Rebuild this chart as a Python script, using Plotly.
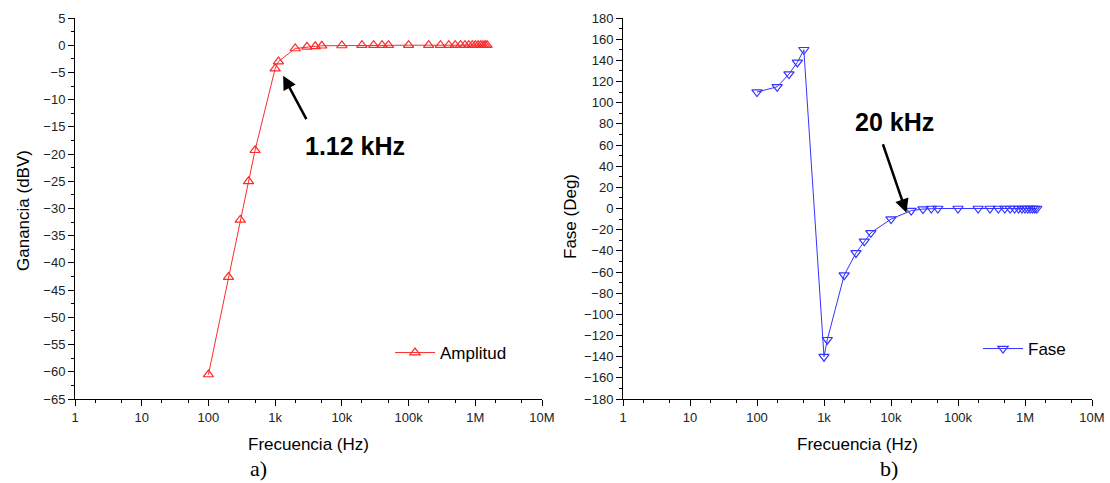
import plotly.graph_objects as go

# Measured frequency response of the filter
freq_hz = [100, 200, 300, 400, 500, 1000, 1120, 2000, 3000, 4000, 5000,
           10000, 20000, 30000, 40000, 50000, 100000, 200000, 300000,
           400000, 500000, 600000, 700000, 800000, 900000, 1000000,
           1100000, 1200000, 1300000, 1400000, 1500000]
amplitud_dbv = [-60.5, -42.6, -32.1, -25.0, -19.3, -4.3, -3.0, -0.6, -0.3,
                -0.2, -0.1, -0.05, 0, 0, 0, 0, 0, 0, 0, 0, 0, 0, 0, 0, 0, 0,
                0, 0, 0, 0, 0]
fase_deg = [110, 115, 127, 138, 150, -140, -124, -63, -42, -31, -23, -10,
            -2, -0.5, 0, 0, 0, 0, 0, 0, 0, 0, 0, 0, 0, 0, 0, 0, 0, 0, 0]

x_tickvals = [1, 10, 100, 1e3, 1e4, 1e5, 1e6, 1e7]
x_ticktext = ["1", "10", "100", "1k", "10k", "100k", "1M", "10M"]

FONT = "Liberation Sans, Arial, sans-serif"
W, H = 1110, 483

def px_x(p):
    return p / W

def px_y(p):
    return 1 - p / H

fig = go.Figure()
fig.add_trace(go.Scatter(
    x=freq_hz, y=amplitud_dbv, name="Amplitud", mode="lines+markers",
    line=dict(color="#ff2a2a", width=1),
    marker=dict(symbol="triangle-up-open", size=9, color="#ff2a2a",
                line=dict(width=1.2)),
    xaxis="x", yaxis="y", legend="legend", showlegend=True))
fig.add_trace(go.Scatter(
    x=freq_hz, y=fase_deg, name="Fase", mode="lines+markers",
    line=dict(color="#3434ff", width=1),
    marker=dict(symbol="triangle-down-open", size=9, color="#3434ff",
                line=dict(width=1.2)),
    xaxis="x2", yaxis="y2", legend="legend2", showlegend=True))

tickfont = dict(family=FONT, size=13, color="#222")
common_x = dict(type="log", range=[0, 7], tickvals=x_tickvals,
                ticktext=x_ticktext, ticks="outside", ticklen=6,
                tickwidth=1, tickcolor="black", showline=True,
                linecolor="black", linewidth=1, showgrid=False,
                zeroline=False, tickfont=tickfont, automargin=False,
                minor=dict(ticks="outside", ticklen=3, tickcolor="black",
                           showgrid=False))
common_y = dict(ticks="outside", ticklen=6, tickwidth=1, tickcolor="black",
                showline=True, linecolor="black", linewidth=1,
                showgrid=False, zeroline=False, tickfont=tickfont,
                automargin=False)

y_dom = [px_y(399), px_y(18)]
legend_font = dict(family=FONT, size=17, color="black")
fig.update_layout(
    width=W, height=H, autosize=False, showlegend=True,
    margin=dict(l=0, r=0, t=0, b=0, autoexpand=False),
    paper_bgcolor="white", plot_bgcolor="white",
    xaxis=dict(common_x, domain=[px_x(75), px_x(542)], anchor="y"),
    yaxis=dict(common_y, domain=y_dom, anchor="x", range=[-65, 5],
               dtick=5, minor=dict(ticks="outside", ticklen=3,
                                   dtick=2.5, tickcolor="black")),
    xaxis2=dict(common_x, domain=[px_x(623), px_x(1092)], anchor="y2"),
    yaxis2=dict(common_y, domain=y_dom, anchor="x2", range=[-180, 180],
                dtick=20, minor=dict(ticks="outside", ticklen=3,
                                     dtick=10, tickcolor="black")),
    legend=dict(x=px_x(390), y=px_y(353), xanchor="left", yanchor="middle",
                bgcolor="rgba(0,0,0,0)", itemwidth=40, font=legend_font),
    legend2=dict(x=px_x(978), y=px_y(349), xanchor="left", yanchor="middle",
                 bgcolor="rgba(0,0,0,0)", itemwidth=40, font=legend_font),
)

title_font = dict(family=FONT, size=17, color="black")
serif_font = dict(family="Liberation Serif, Times New Roman, serif",
                  size=22, color="black")

def paper_text(text, x, y, font, angle=0):
    return dict(text=text, x=px_x(x), y=px_y(y), xref="paper",
                yref="paper", xanchor="center", yanchor="middle",
                showarrow=False, textangle=angle, font=font)

annotations = [
    paper_text("Frecuencia (Hz)", 308, 444, title_font),
    paper_text("Frecuencia (Hz)", 857, 444, title_font),
    paper_text("Ganancia (dBV)", 23, 211, title_font, -90),
    paper_text("Fase (Deg)", 570, 217, title_font, -90),
    paper_text("a)", 258, 468, serif_font),
    paper_text("b)", 889, 468, serif_font),
    # cutoff labels
    dict(text="<b>1.12 kHz</b>", x=4.2, y=-18.5, xref="x", yref="y",
         xanchor="center", yanchor="middle", showarrow=False,
         font=dict(family=FONT, size=25, color="black")),
    dict(text="", x=3.12, y=-5.6, xref="x", yref="y", showarrow=True,
         ax=24, ay=45, arrowhead=2, arrowsize=1.1, arrowwidth=2.5,
         arrowcolor="black"),
    dict(text="<b>20 kHz</b>", x=4.05, y=82, xref="x2", yref="y2",
         xanchor="center", yanchor="middle", showarrow=False,
         font=dict(family=FONT, size=25, color="black")),
    dict(text="", x=4.23, y=-4, xref="x2", yref="y2", showarrow=True,
         ax=-24, ay=-70, arrowhead=2, arrowsize=1.1, arrowwidth=2.5,
         arrowcolor="black"),
]
fig.update_layout(annotations=annotations)

# keep the figure at its fixed pixel size with no page margin
post = ("document.body.style.margin='0';"
        "document.documentElement.style.margin='0';"
        "var gd=document.getElementById('{plot_id}');"
        "Plotly.relayout(gd,{width:%d,height:%d});" % (W, H))
fig.write_html("out.html", post_script=post,
               config={"responsive": False, "displayModeBar": False})
